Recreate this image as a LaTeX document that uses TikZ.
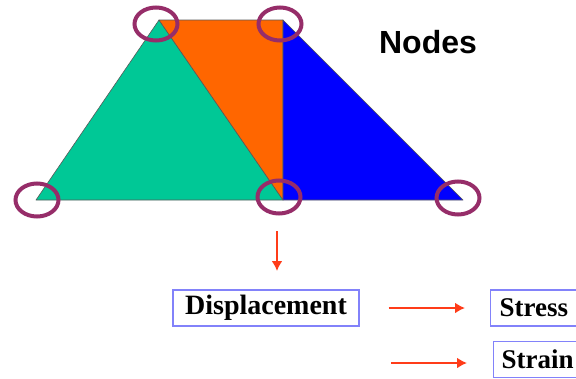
\documentclass[tikz,border=0pt]{standalone}
\usepackage{fontspec}
\setmainfont{Liberation Serif}
\newfontfamily\headfont{Liberation Sans}
\usetikzlibrary{arrows.meta,calc,positioning}
\definecolor{elemgreen}{RGB}{0,200,150}
\definecolor{elemorange}{RGB}{255,102,0}
\definecolor{elemblue}{RGB}{0,0,255}
\definecolor{ringpurple}{RGB}{150,45,105}
\definecolor{flowred}{RGB}{255,60,25}
\definecolor{boxblue}{RGB}{130,130,250}

\begin{document}
\begin{tikzpicture}[x=1pt,y=-1pt,>=Latex]
  \useasboundingbox (0,0) rectangle (576,378);
  \tikzset{
    elem/.style={draw=black!65,line width=0.6pt,line join=round},
    ring/.style={ringpurple,line width=4pt},
    qtybox/.style={draw=boxblue,line width=1.1pt,minimum height=36pt,inner xsep=10pt,
      font=\fontsize{28}{30}\selectfont\bfseries},
    sidebox/.style={qtybox,inner xsep=9pt,font=\fontsize{27}{30}\selectfont\bfseries},
    flow/.style={flowred,line width=2.8pt,-{Latex[length=10pt,width=11pt]}}
  }
  % mesh vertices
  \coordinate (v1) at (36,200);
  \coordinate (v2) at (159,20);
  \coordinate (v3) at (283,20);
  \coordinate (v4) at (283,200);
  \coordinate (v5) at (463,200);
  \filldraw[elem,fill=elemgreen] (v1)--(v2)--(v4)--cycle;
  \filldraw[elem,fill=elemorange] (v2)--(v3)--(v4)--cycle;
  \filldraw[elem,fill=elemblue] (v3)--(v5)--(v4)--cycle;
  % node rings
  \foreach \v/\dx/\dy in {v1/1/0,v2/-3/4,v3/-3/4,v4/-4/-3,v5/-5/-2}{
    \draw[ring] ($(\v)+(\dx,\dy)$) ellipse [x radius=21.5pt,y radius=16.5pt];
  }
  \node[font=\headfont\fontsize{32}{36}\selectfont\bfseries] (nodes) at (428,42) {Nodes};
  % quantities
  \node[qtybox,minimum width=186pt] (disp) at (266,308) {Displacement};
  \node[sidebox,anchor=west] (stress) at (490,308) {Stress};
  \node[sidebox,anchor=north west,inner xsep=8pt] (strain) at (493,341) {Strain};
  \coordinate (dtop) at (277,231);
  \coordinate (dtip) at (277,271);
  \coordinate (s2) at (391,363);
  \draw[flow] (dtop)--(dtip);
  \draw[flow,shorten <=29pt,shorten >=25pt] (disp.east)--(stress.west);
  \draw[flow,shorten >=26pt] (s2)--(s2 -| strain.west);
\end{tikzpicture}
\end{document}
